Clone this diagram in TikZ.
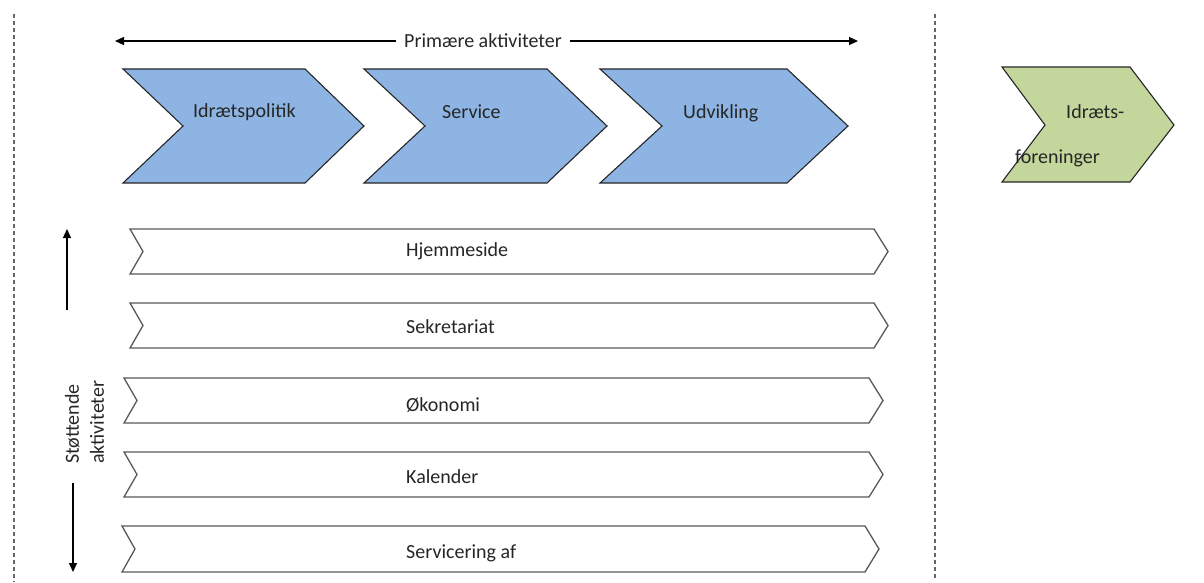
\documentclass[tikz,border=0pt]{standalone}
\usepackage{fontspec}
\setmainfont{Carlito}
\usetikzlibrary{arrows.meta}
\definecolor{chevblue}{HTML}{8DB4E2}
\definecolor{chevgreen}{HTML}{C3D69B}
\begin{document}
\begin{tikzpicture}[x=1pt,y=-1pt,
  lbl/.style={font=\fontsize{20}{24}\selectfont, text=black!85, inner sep=0pt},
  primchev/.style={fill=chevblue, draw=black!85, line width=1.1pt, line join=miter},
  greenchev/.style={fill=chevgreen, draw=black!85, line width=1.1pt},
  suppchev/.style={fill=white, draw=black!65, line width=1.3pt},
  divider/.style={draw=black!60, line width=1.2pt, dash pattern=on 4pt off 3pt},
  arr/.style={draw=black, line width=1.3pt, -{Triangle[length=9pt,width=8pt]}}]
\useasboundingbox (0,0) rectangle (1204,582);

% dividers
\coordinate (dl1) at (14,14); \coordinate (dl2) at (14,582);
\coordinate (dr1) at (935,14); \coordinate (dr2) at (935,580);
\draw[divider] (dl1) -- (dl2);
\draw[divider] (dr1) -- (dr2);

% primary activities arrow
\node[lbl, inner xsep=8pt] (prim) at (483,41) {Primære aktiviteter};
\coordinate (primL) at (115,41);
\coordinate (primR) at (858,41);
\draw[arr] (prim.west) -- (primL);
\draw[arr] (prim.east) -- (primR);

% primary chevrons
\draw[primchev] (123,69) -- (305,69) -- (364,126) -- (305,183) -- (123,183) -- (183,126) -- cycle;
\draw[primchev] (364,69) -- (547,69) -- (607,126) -- (547,183) -- (364,183) -- (425,126) -- cycle;
\draw[primchev] (600,69) -- (787,69) -- (848,126) -- (787,183) -- (600,183) -- (662,126) -- cycle;
\node[lbl, anchor=west] (p1) at (193,112) {Idrætspolitik};
\node[lbl, anchor=west] (p2) at (442,112) {Service};
\node[lbl, anchor=west] (p3) at (683,113) {Udvikling};

% green chevron
\draw[greenchev] (1002,67) -- (1130,67) -- (1174,125) -- (1130,182) -- (1002,182) -- (1045,125) -- cycle;
\node[lbl, anchor=west] (g1) at (1066,112) {Idræts-};
\node[lbl, anchor=west] (g2) at (1015,158) {foreninger};

% support chevrons
\draw[suppchev] (130,229) -- (874,229) -- (888,251.5) -- (874,274) -- (130,274) -- (143,251.5) -- cycle;
\draw[suppchev] (130,303) -- (874,303) -- (888,325.5) -- (874,348) -- (130,348) -- (143,325.5) -- cycle;
\draw[suppchev] (124,378) -- (869,378) -- (883,400.5) -- (869,423) -- (124,423) -- (137,400.5) -- cycle;
\draw[suppchev] (124,452) -- (869,452) -- (883,474.5) -- (869,497) -- (124,497) -- (137,474.5) -- cycle;
\draw[suppchev] (122,526) -- (865,526) -- (879,549) -- (865,572) -- (122,572) -- (135,549) -- cycle;
\node[lbl, anchor=west] (s1) at (406,251) {Hjemmeside};
\node[lbl, anchor=west] (s2) at (406,327) {Sekretariat};
\node[lbl, anchor=west] (s3) at (406,405) {Økonomi};
\node[lbl, anchor=west] (s4) at (406,477) {Kalender};
\node[lbl, anchor=west] (s5) at (406,553) {Servicering af};

% support activities label and arrows
\node[lbl, font=\fontsize{20}{25}\selectfont, rotate=90, align=left, anchor=west] (supp) at (84.5,464) {Støttende\\aktiviteter};
\coordinate (upT) at (67,310); \coordinate (upH) at (67,229);
\coordinate (dnT) at (73,483); \coordinate (dnH) at (73,572);
\draw[arr] (upT) -- (upH);
\draw[arr] (dnT) -- (dnH);
\end{tikzpicture}
\end{document}
